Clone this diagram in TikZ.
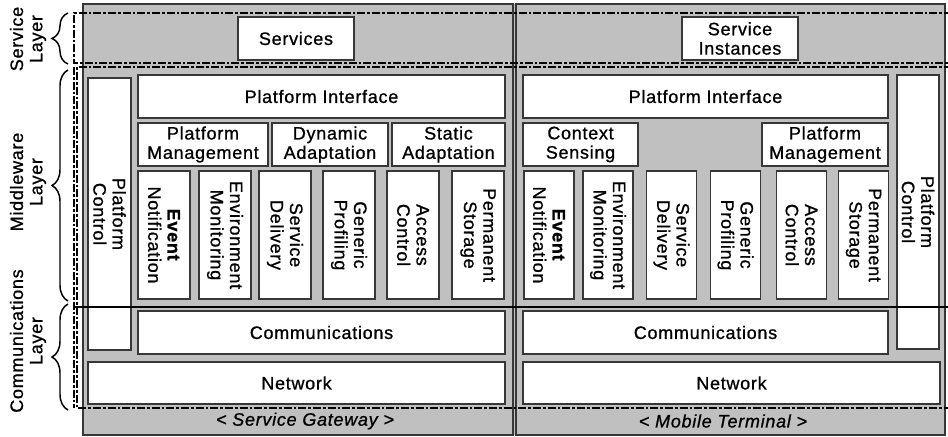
\documentclass[tikz,border=0pt]{standalone}
\usepackage{fontspec}
\setmainfont{Liberation Sans}[LetterSpace=4,
  UprightFeatures={FakeBold=0.9}, ItalicFeatures={FakeBold=0.9},
  BoldFeatures={FakeBold=1.2}]
\usepackage{tikz}
\usetikzlibrary{decorations.pathreplacing}

\definecolor{panelgray}{RGB}{192,192,192}
\definecolor{edgegray}{RGB}{55,55,55}

\begin{document}
\begin{tikzpicture}[x=0.75pt,y=0.75pt,yscale=-1,xscale=1,
  box/.style={draw=edgegray, fill=white, line width=1pt, inner sep=0pt, align=center, font=\fontsize{13.5}{14.5}\selectfont},
  hbox/.style={box, minimum height=32.25pt},
  vbox/.style={box, rotate=-90, minimum width=96pt, minimum height=39pt},
  layer/.style={dash pattern={on 6pt off 1.5pt on 2pt off 1.5pt}, line width=1.1pt},
  lbrace/.style={decorate, decoration={brace, amplitude=12pt}, line width=1.1pt},
  lbl/.style={rotate=90, align=center, font=\fontsize{13.5}{14.5}\selectfont},
  tag/.style={font=\fontsize{13.5}{14.5}\selectfont\itshape}]
\useasboundingbox (0,0) rectangle (948,436);

% gateway and terminal panels
\fill [panelgray] (83,4) rectangle (945,435);
\draw [edgegray, line width=1pt] (83,4) rectangle (513,435);
\draw [edgegray, line width=1pt] (516,4) rectangle (945,435);

% layer borders
\draw [layer] (952,13) -- (74,13) -- (74,63) -- (952,63);
\draw [layer] (952,67) -- (77,67) -- (77,408) -- (952,408);
\draw [layer] (74,67) -- (74,408);

% Service Gateway
\node [hbox, minimum width=87pt] (svc) at (296,38.5) {Services};
\node [vbox, minimum width=204pt, minimum height=32.25pt] (pcL) at (109.5,214) {Platform\\Control};
\node [hbox, minimum width=275.25pt] (piL) at (321.5,96.5) {Platform Interface};
\node [hbox, minimum width=97.5pt] (pmL) at (203,144.5) {Platform\\Management};
\node [hbox, minimum width=87pt] (daL) at (330,144.5) {Dynamic\\Adaptation};
\node [hbox, minimum width=84.75pt] (saL) at (448.5,144.5) {Static\\Adaptation};
\node [vbox] (enL) at (164,235) {\textbf{Event}\\Notification};
\node [vbox] (emL) at (225,235) {Environment\\Monitoring};
\node [vbox] (sdL) at (285,235) {Service\\Delivery};
\node [vbox] (gpL) at (349,235) {Generic\\Profiling};
\node [vbox] (acL) at (413,235) {Access\\Control};
\node [vbox] (psL) at (478,235) {Permanent\\Storage};
\node [hbox, minimum width=275.25pt] (comL) at (321.5,332.5) {Communications};
\node [hbox, minimum width=312.75pt, minimum height=31.5pt] (netL) at (296.5,383) {Network};
\node [tag] (gw) at (305,421) {< Service Gateway >};

% Mobile Terminal
\node [hbox, minimum width=87pt] (sinst) at (740,38.5) {Service\\Instances};
\node [hbox, minimum width=273.75pt] (piR) at (705.5,96.5) {Platform Interface};
\node [hbox, minimum width=86.25pt] (csR) at (580.5,144.5) {Context\\Sensing};
\node [hbox, minimum width=94.5pt] (pmR) at (825,144.5) {Platform\\Management};
\node [vbox, minimum width=205.5pt, minimum height=31.5pt] (pcR) at (918,212) {Platform\\Control};
\node [vbox, minimum height=37.5pt] (enR) at (549,235) {\textbf{Event}\\Notification};
\node [vbox, minimum height=37.5pt] (emR) at (608,235) {Environment\\Monitoring};
\node [vbox, minimum height=37.5pt] (sdR) at (671.5,235) {Service\\Delivery};
\node [vbox, minimum height=37.5pt] (gpR) at (735.5,235) {Generic\\Profiling};
\node [vbox, minimum height=37.5pt] (acR) at (801.5,235) {Access\\Control};
\node [vbox, minimum height=37.5pt] (psR) at (863.5,235) {Permanent\\Storage};
\node [hbox, minimum width=273.75pt] (comR) at (705.5,332.5) {Communications};
\node [hbox, minimum width=312.75pt, minimum height=31.5pt] (netR) at (731.5,383) {Network};
\node [tag] (mt) at (723,421) {< Mobile Terminal >};

% middleware / communications split
\draw [line width=1.5pt] (74,307) -- (952,307);

% layer braces and names
\draw [lbrace] (68,64) -- (68,13);
\draw [lbrace] (68,301) -- (68,70);
\draw [lbrace] (68,410) -- (68,304);
\node [lbl] (sl) at (28,39) {Service\\Layer};
\node [lbl] (ml) at (28,182) {Middleware\\Layer};
\node [lbl] (cl) at (28,341) {Communications\\Layer};

\end{tikzpicture}
\end{document}
